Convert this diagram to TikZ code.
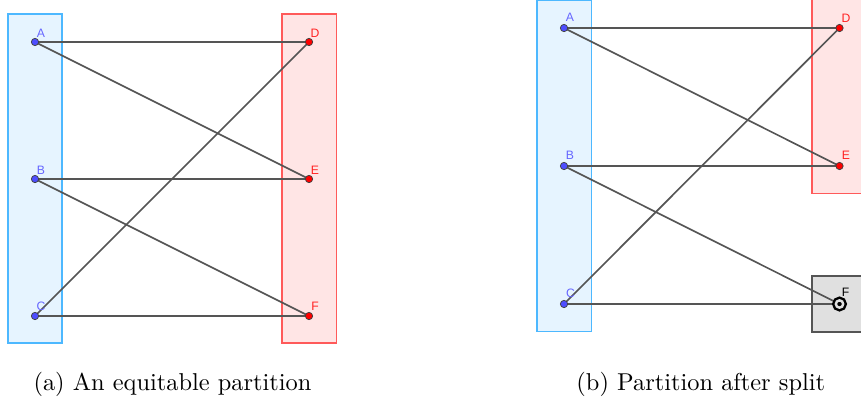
\documentclass[tikz,border=0pt]{standalone}
\usepackage{fontspec}
\newfontfamily\lblfont{Liberation Sans}
\definecolor{bluefill}{HTML}{E6F4FF}
\definecolor{blueedge}{HTML}{4DB8FF}
\definecolor{redfill}{HTML}{FFE5E5}
\definecolor{rededge}{HTML}{FF5A5A}
\definecolor{grayfill}{HTML}{E0E0E0}
\definecolor{grayedge}{HTML}{555555}
\definecolor{edgecol}{HTML}{555555}
\definecolor{bluept}{HTML}{4D4DFF}
\definecolor{bluelbl}{HTML}{6666FF}
\definecolor{redpt}{HTML}{FF0000}
\definecolor{redlbl}{HTML}{FF2222}
\tikzset{
  bluebox/.style={draw=blueedge, fill=bluefill, line width=0.65pt},
  redbox/.style={draw=rededge, fill=redfill, line width=0.65pt},
  graybox/.style={draw=grayedge, fill=grayfill, line width=0.75pt},
  bpt/.style={circle, fill=bluept, draw=black!75, line width=0.3pt, inner sep=0pt, minimum size=3pt},
  rpt/.style={circle, fill=redpt, draw=black!75, line width=0.3pt, inner sep=0pt, minimum size=3pt},
  fpt/.style={circle, fill=black, draw=black, line width=1pt, inner sep=0pt, minimum size=3pt, double=grayfill, double distance=1pt},
  conn/.style={draw=edgecol, line width=0.68pt},
  blbl/.style={font=\lblfont\fontsize{5}{6}\selectfont, text=bluelbl, inner sep=0pt},
  rlbl/.style={font=\lblfont\fontsize{5}{6}\selectfont, text=redlbl, inner sep=0pt},
  klbl/.style={font=\lblfont\fontsize{5}{6}\selectfont, text=black, inner sep=0pt},
  captext/.style={font=\fontsize{10}{12}\selectfont, anchor=base, inner sep=0pt}
}
\begin{document}
\begin{tikzpicture}[x=0.41pt, y=-0.41pt]
\useasboundingbox (0,0) rectangle (861,400);
\begin{scope}
\clip (0,0) rectangle (861,400);
% ---------- panel (a) ----------
\draw[bluebox] (8,14) rectangle (62,343);
\draw[redbox] (282,14) rectangle (336.5,343);
\coordinate (a1) at (35,42);
\coordinate (b1) at (35,179);
\coordinate (c1) at (35,316);
\coordinate (d1) at (309,42);
\coordinate (e1) at (309,179);
\coordinate (f1) at (309,316);
\path[conn] (a1) -- (d1);
\path[conn] (a1) -- (e1);
\path[conn] (b1) -- (e1);
\path[conn] (b1) -- (f1);
\path[conn] (c1) -- (d1);
\path[conn] (c1) -- (f1);
\node[bpt] (pa1) at (a1) {};
\node[bpt] (pb1) at (b1) {};
\node[bpt] (pc1) at (c1) {};
\node[rpt] (pd1) at (d1) {};
\node[rpt] (pe1) at (e1) {};
\node[rpt] (pf1) at (f1) {};
\node[blbl] (la1) at (41,33) {A};
\node[blbl] (lb1) at (41,170) {B};
\node[blbl] (lc1) at (41,306) {C};
\node[rlbl] (ld1) at (315,33) {D};
\node[rlbl] (le1) at (315,170) {E};
\node[rlbl] (lf1) at (315,306) {F};
\node[captext] (capa) at (172.5,390) {(a) An equitable partition};
% ---------- panel (b) ----------
\draw[bluebox] (537,0.5) rectangle (591.5,331.5);
\draw[redbox] (812,-5) rectangle (880,193.5);
\draw[graybox] (812,276) rectangle (880,332);
\coordinate (a2) at (564,28);
\coordinate (b2) at (564,166);
\coordinate (c2) at (564,304);
\coordinate (d2) at (839.5,28);
\coordinate (e2) at (839.5,166);
\coordinate (f2) at (839.5,304);
\path[conn] (a2) -- (d2);
\path[conn] (a2) -- (e2);
\path[conn] (b2) -- (e2);
\path[conn] (b2) -- (f2);
\path[conn] (c2) -- (d2);
\path[conn] (c2) -- (f2);
\node[bpt] (pa2) at (a2) {};
\node[bpt] (pb2) at (b2) {};
\node[bpt] (pc2) at (c2) {};
\node[rpt] (pd2) at (d2) {};
\node[rpt] (pe2) at (e2) {};
\node[fpt] (pf2) at (f2) {};
\node[blbl] (la2) at (570,17) {A};
\node[blbl] (lb2) at (570,155) {B};
\node[blbl] (lc2) at (570.5,293) {C};
\node[rlbl] (ld2) at (846,18) {D};
\node[rlbl] (le2) at (846,155) {E};
\node[klbl] (lf2) at (845.5,292.5) {F};
\node[captext] (capb) at (700.8,390) {(b) Partition after split};
\end{scope}
\end{tikzpicture}
\end{document}
